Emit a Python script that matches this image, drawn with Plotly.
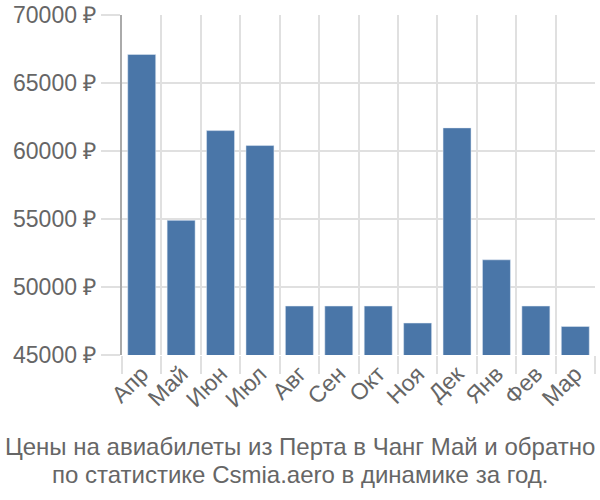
import plotly.graph_objects as go

months = ["Апр", "Май", "Июн", "Июл", "Авг", "Сен", "Окт", "Ноя", "Дек", "Янв", "Фев", "Мар"]
prices = [67100, 54900, 61500, 60400, 48600, 48600, 48600, 47350, 61700, 52000, 48600, 47100]
y_ticks = [45000, 50000, 55000, 60000, 65000, 70000]
y_tick_text = [f"{v} ₽" for v in y_ticks]
title_lines = ["Цены на авиабилеты из Перта в Чанг Май и обратно",
               "по статистике Csmia.aero в динамике за год."]

fig = go.Figure(go.Bar(x=months, y=prices, marker=dict(color="#4a76a8"),
                       base=0, hoverinfo="x+y"))

font = dict(family="Liberation Sans, Arial, sans-serif", size=23, color="#666666")
fig.update_layout(
    width=600, height=500,
    margin=dict(l=122, r=5, t=15, b=145, autoexpand=False),
    paper_bgcolor="white", plot_bgcolor="white",
    bargap=0.29,
    font=font,
    showlegend=False,
    xaxis=dict(type="category", tickson="boundaries", showgrid=True, gridcolor="#e0e0e0",
               gridwidth=2, ticks="outside", ticklen=18, tickcolor="#e0e0e0", tickwidth=2,
               tickangle=-45, tickfont=font, showline=False, zeroline=False, automargin=False),
    yaxis=dict(range=[45000, 70000], tickvals=y_ticks, ticktext=y_tick_text,
               showgrid=True, gridcolor="#e0e0e0", gridwidth=2, ticks="outside",
               ticklen=19, tickcolor="#e0e0e0", tickwidth=2, tickfont=font,
               showline=True, linecolor="#aaaaaa", linewidth=2, zeroline=False, automargin=False),
    annotations=[dict(text=line, xref="paper", yref="paper",
                      x=(300 - 122) / 473, xanchor="center", y=(355 - yc) / 340, yanchor="middle",
                      showarrow=False, font=dict(font, size=24), align="center")
                 for line, yc in zip(title_lines, [446, 474])],
)
fig.write_html("out.html")
